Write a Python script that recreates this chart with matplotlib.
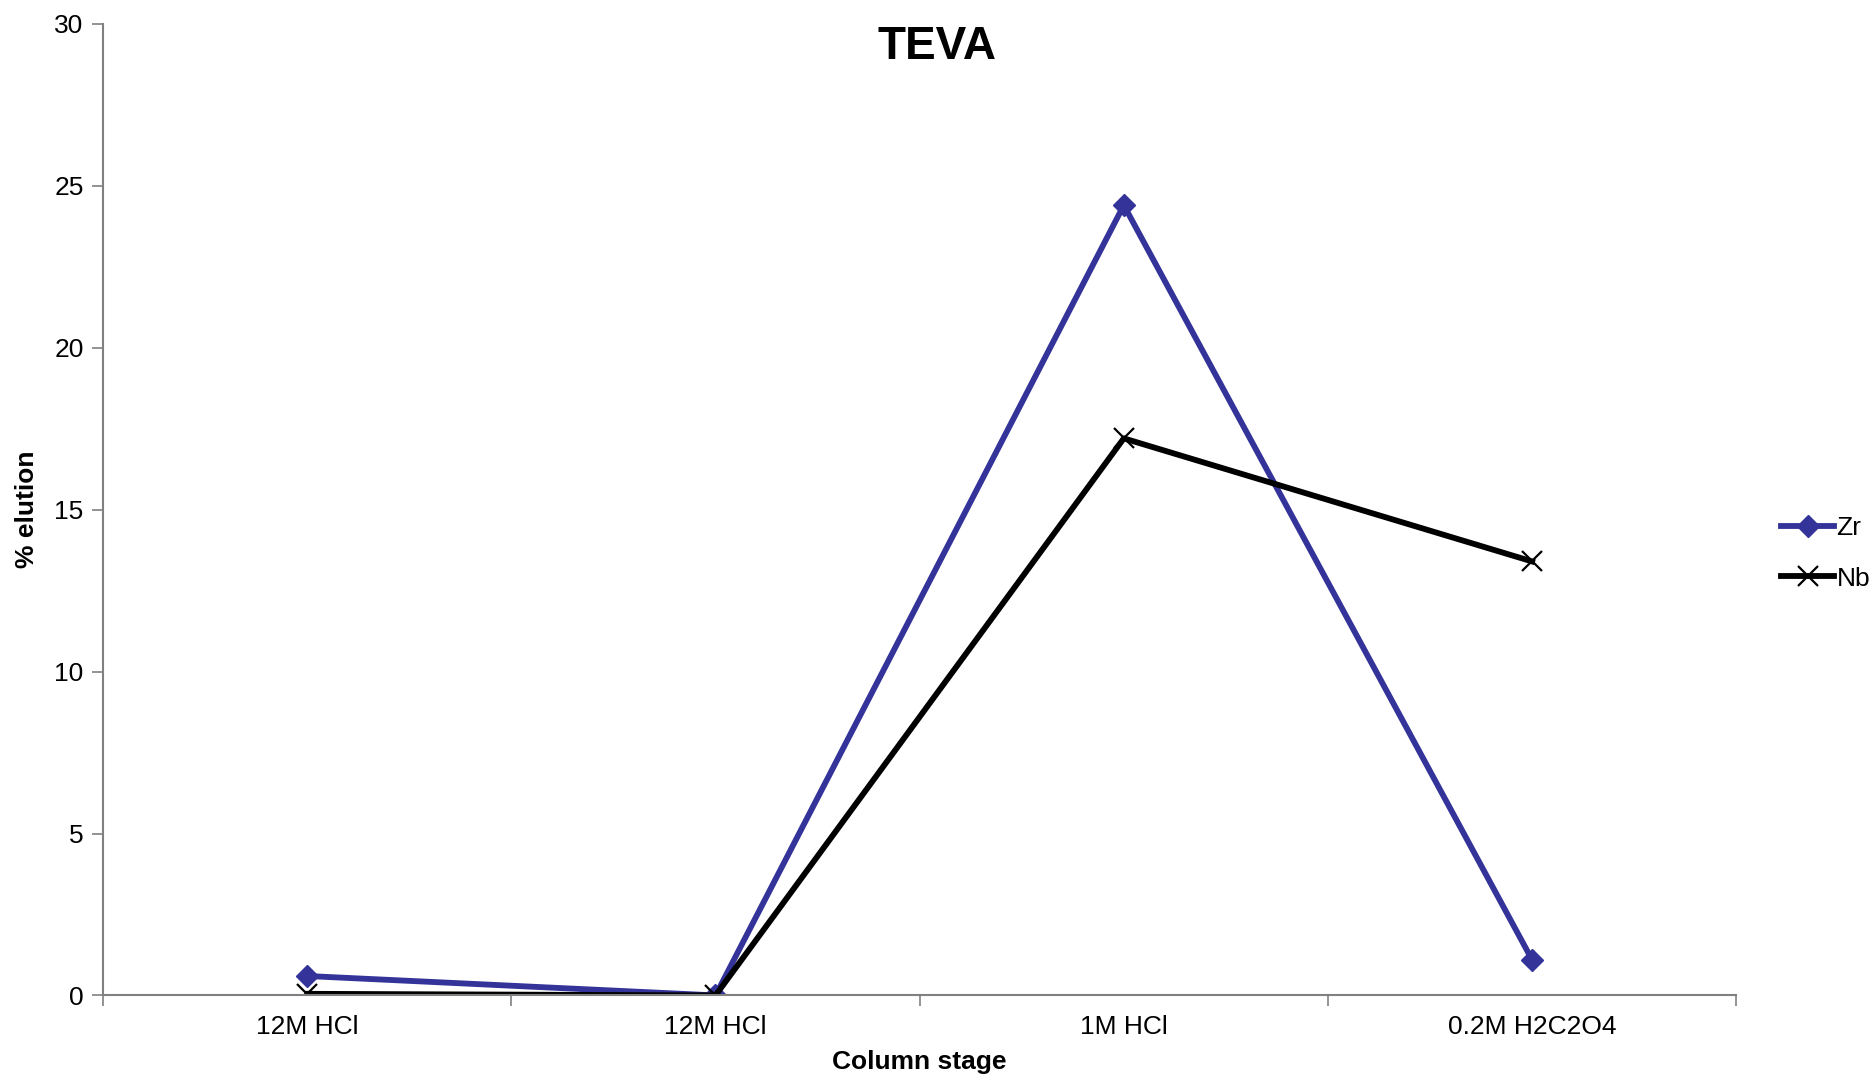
import matplotlib.pyplot as plt

plt.rcParams['font.family'] = ['Liberation Sans', 'DejaVu Sans']

# Datos
etapas = ['12M HCl', '12M HCl', '1M HCl', '0.2M H2C2O4']
zr = [0.6, 0.0, 24.4, 1.1]
nb = [0.05, 0.0, 17.2, 13.4]

fig = plt.figure(figsize=(18.73, 10.82), dpi=100)
ax = fig.add_axes([0.055, 0.080, 0.872, 0.898])

x = list(range(len(etapas)))
ax.plot(x, zr, color='#333399', lw=4.2, marker='D', ms=11, label='Zr')
ax.plot(x, nb, color='black', lw=4.2, marker='x', ms=14, mew=1.6, label='Nb')

ax.set_xlim(-0.5, len(etapas) - 0.5)
ax.set_ylim(0, 30)
ax.set_yticks(range(0, 31, 5))

# ticks en los limites de las categorias, etiquetas en el centro
ax.set_xticks([i - 0.5 for i in range(len(etapas) + 1)])
ax.set_xticklabels([])
ax.set_xticks(x, minor=True)
ax.set_xticklabels(etapas, minor=True)
ax.tick_params(axis='x', which='minor', length=0, pad=14, labelsize=19)
ax.tick_params(axis='x', which='major', length=8, width=1.2, color='#808080')
ax.tick_params(axis='y', length=8, width=1.2, color='#808080', labelsize=19, pad=6)

for lado in ['top', 'right']:
    ax.spines[lado].set_visible(False)
for lado in ['left', 'bottom']:
    ax.spines[lado].set_color('#808080')
    ax.spines[lado].set_linewidth(1.5)

ax.set_xlabel('Column stage', fontsize=19, fontweight='bold', labelpad=8)
ax.set_ylabel('% elution', fontsize=19, fontweight='bold', labelpad=11)
fig.suptitle('TEVA', fontsize=33, fontweight='bold', y=0.977)

ax.legend(loc='center left', bbox_to_anchor=(1.021, 0.455), frameon=False,
          fontsize=19, handlelength=2.0, handletextpad=0.1, labelspacing=1.0,
          borderaxespad=0)

fig.savefig('out.png', dpi=100)
